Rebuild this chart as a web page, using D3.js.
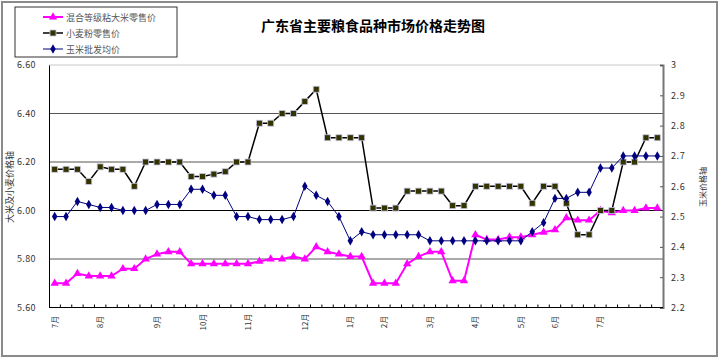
<!DOCTYPE html>
<html>
<head>
<meta charset="utf-8">
<script src="https://cdn.jsdelivr.net/npm/d3@7/dist/d3.min.js"></script>
<style>
  body { margin: 0; background: #fff; }
  text { font-family: "Noto Sans CJK SC", "DejaVu Sans", sans-serif; }
</style>
</head>
<body>
<svg id="chart" width="720" height="362"></svg>
<script>
// weekly category labels (only the first week of each month is labelled)
const weekLabels = [
  "7月", "", "", "", "8月", "", "", "", "", "9月", "", "", "", "10月", "", "", "", "11月",
  "", "", "", "", "12月", "", "", "", "1月", "", "", "2月", "", "", "", "3月", "", "",
  "", "4月", "", "", "", "5月", "", "", "6月", "", "", "", "7月", "", "", "", "", ""
]

// 混合等级粘大米零售价 (left axis)
const rice = [
  5.70, 5.70, 5.74, 5.73, 5.73, 5.73, 5.76, 5.76, 5.80, 5.82, 5.83, 5.83, 5.78, 5.78,
  5.78, 5.78, 5.78, 5.78, 5.79, 5.80, 5.80, 5.81, 5.80, 5.85, 5.83, 5.82, 5.81, 5.81,
  5.70, 5.70, 5.70, 5.78, 5.81, 5.83, 5.83, 5.71, 5.71, 5.90, 5.88, 5.88, 5.89, 5.89,
  5.90, 5.91, 5.92, 5.97, 5.96, 5.96, 6.00, 5.99, 6.00, 6.00, 6.01, 6.01
]

// 小麦粉零售价 (left axis)
const wheat = [
  6.17, 6.17, 6.17, 6.12, 6.18, 6.17, 6.17, 6.10, 6.20, 6.20, 6.20, 6.20, 6.14, 6.14,
  6.15, 6.16, 6.20, 6.20, 6.36, 6.36, 6.40, 6.40, 6.45, 6.50, 6.30, 6.30, 6.30, 6.30,
  6.01, 6.01, 6.01, 6.08, 6.08, 6.08, 6.08, 6.02, 6.02, 6.10, 6.10, 6.10, 6.10, 6.10,
  6.03, 6.10, 6.10, 6.03, 5.90, 5.90, 6.00, 6.00, 6.20, 6.20, 6.30, 6.30
]

// 玉米批发均价 (right axis)
const corn = [
  2.50, 2.50, 2.55, 2.54, 2.53, 2.53, 2.52, 2.52, 2.52, 2.54, 2.54, 2.54, 2.59, 2.59,
  2.57, 2.57, 2.50, 2.50, 2.49, 2.49, 2.49, 2.50, 2.60, 2.57, 2.55, 2.50, 2.42, 2.45,
  2.44, 2.44, 2.44, 2.44, 2.44, 2.42, 2.42, 2.42, 2.42, 2.42, 2.42, 2.42, 2.42, 2.42,
  2.45, 2.48, 2.56, 2.56, 2.58, 2.58, 2.66, 2.66, 2.70, 2.70, 2.70, 2.70
]

const leftTicks = [5.6, 5.8, 6.0, 6.2, 6.4, 6.6]
const rightTicks = [2.2, 2.3, 2.4, 2.5, 2.6, 2.7, 2.8, 2.9, 3.0]

const svg = d3.select('#chart')
const plot = { left: 49, right: 663, top: 65, bottom: 307.5 }
const idx = d3.range(weekLabels.length)

const x = d3.scaleBand().domain(idx).range([plot.left, plot.right])
const cx = i => x(i) + x.bandwidth() / 2
const yL = d3.scaleLinear().domain([5.6, 6.6]).range([plot.bottom, plot.top])
const yR = d3.scaleLinear().domain([2.2, 3.0]).range([plot.bottom, plot.top])

// outer frame
svg.append('rect')
    .attr('x', 2).attr('y', 2).attr('width', 715).attr('height', 354)
    .attr('fill', '#fff').attr('stroke', '#8a8a8a').attr('stroke-width', 2)

// plot top border
svg.append('line')
    .attr('x1', plot.left).attr('x2', plot.right)
    .attr('y1', plot.top).attr('y2', plot.top)
    .attr('stroke', '#c8c8c8')

// gridlines
svg.append('g')
  .selectAll('line')
  .data(leftTicks.filter(t => t > 5.6 && t < 6.6))
  .join('line')
    .attr('x1', plot.left).attr('x2', plot.right)
    .attr('y1', d => yL(d)).attr('y2', d => yL(d))
    .attr('stroke', d => Math.abs(d - 6.0) < 1e-6 ? '#000' : '#555')
    .attr('stroke-width', 1)

// left axis
const leftAxis = svg.append('g')
    .attr('transform', `translate(${plot.left},0)`)
    .call(d3.axisLeft(yL).tickValues(leftTicks).tickFormat(d3.format('.2f')).tickSize(0).tickPadding(13))
leftAxis.select('.domain').attr('stroke', '#000')
leftAxis.selectAll('text').attr('font-size', 9).attr('fill', '#333').attr('letter-spacing', 0.4)

// right axis
const rightAxis = svg.append('g')
    .attr('transform', `translate(${plot.right},0)`)
    .call(d3.axisRight(yR).tickValues(rightTicks).tickFormat(d3.format('~g')).tickSize(-3).tickPadding(8))
rightAxis.select('.domain').attr('stroke', '#777').attr('stroke-width', 2)
rightAxis.selectAll('line').attr('stroke', '#555')
rightAxis.selectAll('text').attr('font-size', 9).attr('fill', '#333').attr('letter-spacing', 0.6)

// bottom axis with ticks at category boundaries
svg.append('line')
    .attr('x1', plot.left).attr('x2', plot.right)
    .attr('y1', plot.bottom).attr('y2', plot.bottom)
    .attr('stroke', '#000')
svg.append('g')
  .selectAll('line')
  .data(idx.slice(1))
  .join('line')
    .attr('x1', d => x(d)).attr('x2', d => x(d))
    .attr('y1', plot.bottom - 3).attr('y2', plot.bottom)
    .attr('stroke', '#000')

svg.append('g')
  .selectAll('text')
  .data(idx.filter(i => weekLabels[i]))
  .join('text')
    .attr('transform', d => `translate(${cx(d) + 3},322) rotate(-90)`)
    .attr('text-anchor', 'middle')
    .attr('font-size', 8)
    .attr('fill', '#333')
    .text(d => weekLabels[d])

// axis titles
svg.append('text')
    .attr('transform', 'translate(13,187) rotate(-90)')
    .attr('text-anchor', 'middle')
    .attr('font-size', 9)
    .attr('fill', '#333')
    .text('大米及小麦价格轴')
svg.append('text')
    .attr('transform', 'translate(706,187) rotate(-90)')
    .attr('text-anchor', 'middle')
    .attr('font-size', 8)
    .attr('fill', '#333')
    .text('玉米价格轴')

// title
svg.append('text')
    .attr('x', 373).attr('y', 31)
    .attr('text-anchor', 'middle')
    .attr('font-size', 14)
    .attr('font-weight', 'bold')
    .attr('fill', '#000')
    .text('广东省主要粮食品种市场价格走势图')

// series
const series = [
  { name: '混合等级粘大米零售价', values: rice, y: yL, color: '#ff00ff', width: 2, marker: 'triangle' },
  { name: '小麦粉零售价', values: wheat, y: yL, color: '#000', width: 1.5, marker: 'square' },
  { name: '玉米批发均价', values: corn, y: yR, color: '#000080', width: 1, marker: 'diamond' }
]

const drawMarker = (g, type) => {
    if (type === 'square') {
        g.append('rect')
            .attr('x', -3).attr('y', -3).attr('width', 6).attr('height', 6)
            .attr('fill', '#333300').attr('stroke', '#c8c8e6').attr('stroke-width', 0.8)
    } else if (type === 'diamond') {
        g.append('path')
            .attr('d', d3.symbol(d3.symbolDiamond, 26)())
            .attr('fill', '#000080')
    } else {
        g.append('path')
            .attr('d', d3.symbol(d3.symbolTriangle, 30)())
            .attr('fill', '#ff00ff')
    }
}

series.forEach(s => {
    const line = d3.line().x((d, i) => cx(i)).y(d => s.y(d))
    svg.append('path')
        .datum(s.values)
        .attr('d', line)
        .attr('fill', 'none')
        .attr('stroke', s.color)
        .attr('stroke-width', s.width)
    svg.append('g')
      .selectAll('g')
      .data(s.values)
      .join('g')
        .attr('transform', (d, i) => `translate(${cx(i)},${s.y(d)})`)
        .each(function () { drawMarker(d3.select(this), s.marker) })
})

// legend
const legend = svg.append('g')
legend.append('rect')
    .attr('x', 15).attr('y', 7).attr('width', 162).attr('height', 50)
    .attr('fill', '#fff').attr('stroke', '#333').attr('stroke-width', 1)
series.forEach((s, k) => {
    const ly = 17 + k * 16
    legend.append('line')
        .attr('x1', 43).attr('x2', 63).attr('y1', ly).attr('y2', ly)
        .attr('stroke', s.color).attr('stroke-width', s.width)
    const m = legend.append('g').attr('transform', `translate(53,${ly})`)
    drawMarker(m, s.marker)
    legend.append('text')
        .attr('x', 66).attr('y', ly + 3.5)
        .attr('font-size', 9)
        .attr('fill', '#555')
        .text(s.name)
})
</script>
</body>
</html>
